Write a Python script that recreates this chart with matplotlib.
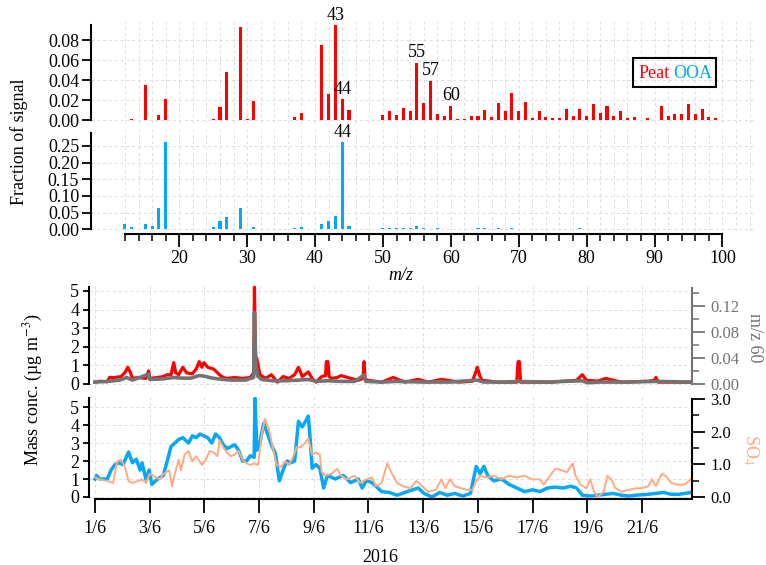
import matplotlib
matplotlib.use("Agg")
import matplotlib.pyplot as plt
import matplotlib.dates as mdates
from matplotlib.ticker import MultipleLocator, FormatStrFormatter, FixedLocator, FuncFormatter
from matplotlib.patches import Rectangle
import numpy as np
import pandas as pd

# ---- mass spectra (fraction of signal) ----
mz = list(range(12, 101))
peat_spec = [0.0003, 0.0017, 0.0, 0.035, 0.0004, 0.005, 0.021, 0, 0, 0,
             0, 0, 0.0004, 0.0017, 0.013, 0.0485, 0, 0.093, 0.0017, 0.0197,
             0, 0, 0, 0, 0, 0.003, 0.007, 0, 0, 0.0755,
             0.0268, 0.095, 0.021, 0.0107, 0, 0, 0.0006, 0.0006, 0.0052, 0.0093,
             0.0055, 0.0122, 0.0095, 0.0578, 0.0175, 0.0395, 0.0068, 0.0045, 0.0145, 0.0017,
             0.001, 0.0045, 0.0048, 0.010, 0.0038, 0.017, 0.0097, 0.0278, 0.0098, 0.018,
             0.0023, 0.0096, 0.0036, 0.002, 0.002, 0.011, 0.0046, 0.011, 0.0043, 0.016,
             0.0073, 0.014, 0.0046, 0.009, 0.0023, 0.003, 0.0007, 0.002, 0.0007, 0.0146,
             0.004, 0.0063, 0.0063, 0.0163, 0.0063, 0.011, 0.003, 0.0026, 0.0007]
ooa_spec = [0.017, 0.006, 0.0, 0.016, 0.010, 0.064, 0.262, 0, 0, 0,
            0, 0, 0.002, 0.007, 0.026, 0.037, 0, 0.064, 0.001, 0.007,
            0, 0, 0, 0, 0, 0.004, 0.006, 0, 0, 0.017,
            0.026, 0.039, 0.262, 0.009, 0, 0, 0.001, 0.001, 0.003, 0.003,
            0.003, 0.005, 0.003, 0.009, 0.003, 0.001, 0.003, 0.001, 0.001, 0.0005,
            0.0005, 0.001, 0.003, 0.003, 0.001, 0.003, 0.002, 0.003, 0.002, 0.002,
            0.001, 0.001, 0.001, 0.001, 0.001, 0.002, 0.002, 0.003, 0.001, 0.002,
            0.002, 0.001, 0.001, 0.001, 0.001, 0.001, 0.0005, 0.001, 0.0005, 0.002,
            0.001, 0.001, 0.001, 0.001, 0.001, 0.001, 0.001, 0.001, 0.0005]
peat_labels = [43, 44, 55, 57, 60]
ooa_labels = [44]

# ---- time series, days after 1 June 2016 ----
peat_days = [0, 0.17, 0.45, 0.53, 0.73, 0.95, 1.09, 1.20, 1.30, 1.37, 1.58, 1.86, 1.96, 2.01,
             2.29, 2.50, 2.64, 2.78, 2.88, 2.95, 3.06, 3.21, 3.35, 3.56, 3.70, 3.81, 3.91,
             3.98, 4.12, 4.34, 4.55, 4.69, 4.83, 5.11, 5.40, 5.68, 5.80, 5.83, 5.87, 5.92,
             6.03, 6.24, 6.45, 6.67, 6.88, 7.09, 7.30, 7.44, 7.58, 7.80, 7.94, 8.08, 8.29,
             8.43, 8.46, 8.52, 8.56, 8.64, 8.86, 9.00, 9.35, 9.63, 9.80, 9.84, 9.88, 9.99,
             10.48, 10.90, 11.33, 11.82, 12.18, 12.67, 13.31, 13.80, 13.94, 13.98, 14.08,
             14.15, 14.72, 15.42, 15.47, 15.52, 15.56, 16.69, 17.61, 17.82, 17.97, 18.39,
             18.67, 19.24, 20.23, 20.46, 20.51, 20.60, 21.78]
peat_conc = [0.10, 0.15, 0.12, 0.35, 0.35, 0.40, 0.60, 0.90, 0.60, 0.30, 0.35, 0.30, 0.70, 0.30,
             0.35, 0.40, 0.50, 0.50, 1.15, 0.60, 0.50, 0.90, 0.60, 0.55, 0.80, 1.20, 0.90,
             1.15, 0.90, 0.80, 0.50, 0.35, 0.30, 0.35, 0.30, 0.35, 0.60, 5.20, 1.50, 1.35,
             0.50, 0.30, 0.50, 0.10, 0.40, 0.30, 0.50, 0.90, 0.40, 0.65, 0.30, 0.10, 0.40,
             0.45, 1.20, 1.20, 0.40, 0.30, 0.35, 0.45, 0.30, 0.20, 0.30, 1.20, 0.25, 0.20,
             0.10, 0.35, 0.10, 0.25, 0.10, 0.25, 0.10, 0.15, 0.70, 0.90, 0.40,
             0.20, 0.10, 0.10, 1.20, 1.20, 0.10, 0.10, 0.20, 0.50, 0.20, 0.15,
             0.30, 0.10, 0.15, 0.20, 0.35, 0.10, 0.10]

m60_days = [0, 0.45, 0.90, 1.16, 1.37, 1.96, 2.01, 2.50, 2.88, 3.20, 3.50, 3.81, 4.00, 4.30,
            4.69, 5.00, 5.50, 5.80, 5.83, 5.88, 5.95, 6.10, 6.50, 7.00, 7.44, 7.80, 8.10,
            8.50, 9.00, 9.50, 9.84, 9.90, 10.50, 11.00, 12.00, 13.00, 13.98, 14.20, 15.00,
            15.50, 16.50, 17.82, 18.00, 18.50, 19.50, 20.50, 21.78]
m60_frac = [0.003, 0.004, 0.006, 0.010, 0.006, 0.015, 0.007, 0.008, 0.010, 0.009, 0.009, 0.013,
            0.012, 0.009, 0.007, 0.006, 0.006, 0.010, 0.110, 0.030, 0.012, 0.007, 0.005,
            0.005, 0.006, 0.007, 0.004, 0.005, 0.004, 0.004, 0.014, 0.004, 0.003, 0.004,
            0.003, 0.003, 0.006, 0.003, 0.003, 0.004, 0.003, 0.005, 0.002, 0.003, 0.003,
            0.004, 0.003]

ooa_days = [0, 0.056, 0.17, 0.45, 0.59, 0.73, 0.88, 1.02, 1.23, 1.37, 1.51, 1.65, 1.72, 1.86,
            1.98, 2.08, 2.29, 2.50, 2.64, 2.78, 2.92, 3.06, 3.21, 3.42, 3.56, 3.70, 3.84,
            3.98, 4.12, 4.27, 4.41, 4.55, 4.69, 4.83, 4.97, 5.11, 5.25, 5.40, 5.54, 5.68,
            5.82, 5.85, 5.92, 6.03, 6.17, 6.31, 6.45, 6.60, 6.74, 6.88, 7.02, 7.16, 7.30,
            7.44, 7.58, 7.73, 7.80, 7.87, 7.94, 8.08, 8.22, 8.36, 8.50, 8.79, 9.07, 9.35,
            9.63, 9.77, 9.92, 10.13, 10.27, 10.48, 10.76, 11.05, 11.33, 11.61, 11.82, 12.03,
            12.32, 12.60, 12.88, 13.16, 13.45, 13.73, 13.94, 14.08, 14.22, 14.36, 14.58,
            14.86, 15.14, 15.42, 15.71, 15.99, 16.27, 16.55, 16.84, 17.12, 17.40, 17.61,
            17.82, 18.11, 18.39, 18.67, 18.95, 19.24, 19.52, 19.80, 20.23, 20.51, 20.79,
            21.07, 21.36, 21.78]
ooa_conc = [1.0, 1.2, 1.0, 1.0, 1.5, 1.8, 1.9, 1.8, 2.5, 1.9, 2.1, 1.5, 1.9, 1.0,
            1.5, 0.7, 1.0, 1.2, 2.0, 2.8, 3.0, 3.2, 3.3, 3.0, 3.4, 3.3, 3.5,
            3.4, 3.3, 3.0, 3.5, 3.3, 2.9, 2.7, 2.8, 2.9, 2.6, 2.0, 2.0, 2.3,
            2.2, 5.5, 2.6, 3.0, 4.1, 3.5, 2.9, 2.4, 0.9, 1.5, 2.0, 1.9, 2.0,
            4.2, 3.9, 4.3, 4.5, 3.2, 1.6, 1.8, 1.6, 0.5, 1.2, 1.0, 1.2, 0.8,
            1.0, 0.5, 0.9, 0.8, 0.6, 0.3, 0.25, 0.1, 0.25, 0.4, 0.5, 0.2,
            0.0, 0.25, 0.1, 0.2, 0.05, 0.2, 1.7, 1.3, 1.7, 1.2, 0.9,
            1.0, 0.7, 0.5, 0.3, 0.4, 0.3, 0.5, 0.55, 0.5, 0.6, 0.5,
            0.1, 0.05, 0.1, 0.15, 0.2, 0.1, 0.05, 0.1, 0.15, 0.2, 0.25,
            0.15, 0.15, 0.25]

so4_days = [0, 0.17, 0.45, 0.66, 0.81, 0.95, 1.09, 1.23, 1.37, 1.58, 1.72, 1.86, 2.01, 2.15,
            2.36, 2.50, 2.71, 2.82, 2.92, 3.06, 3.14, 3.28, 3.42, 3.56, 3.70, 3.91, 4.05,
            4.19, 4.34, 4.48, 4.55, 4.69, 4.83, 4.97, 5.11, 5.25, 5.40, 5.54, 5.68, 5.82,
            5.96, 6.10, 6.21, 6.36, 6.50, 6.64, 6.81, 6.95, 7.09, 7.23, 7.37, 7.51, 7.66,
            7.80, 7.94, 8.08, 8.22, 8.29, 8.43, 8.64, 8.86, 9.00, 9.21, 9.49, 9.70, 9.92,
            10.13, 10.27, 10.48, 10.69, 10.83, 11.05, 11.26, 11.54, 11.75, 11.96, 12.18,
            12.46, 12.67, 12.81, 12.98, 13.16, 13.38, 13.59, 13.80, 13.94, 14.08, 14.29,
            14.58, 14.86, 15.14, 15.42, 15.71, 15.99, 16.27, 16.41, 16.69, 16.84, 17.05,
            17.26, 17.47, 17.57, 17.75, 17.97, 18.11, 18.25, 18.39, 18.60, 18.74, 18.88,
            19.03, 19.24, 19.52, 19.80, 20.01, 20.23, 20.37, 20.51, 20.72, 20.86, 21.07,
            21.28, 21.57, 21.78]
so4_conc = [0.60, 0.54, 0.49, 0.43, 1.09, 1.14, 0.92, 0.49, 0.43, 0.49, 0.54, 0.43, 0.71, 0.65,
            0.54, 0.71, 0.82, 0.33, 0.71, 1.14, 0.82, 1.30, 1.41, 1.09, 1.25, 0.98, 1.14,
            1.41, 1.36, 1.25, 1.74, 1.52, 1.36, 1.25, 1.30, 1.41, 1.14, 1.03, 0.98, 1.03,
            0.98, 1.90, 2.39, 2.07, 1.52, 0.98, 0.92, 1.09, 0.98, 1.20, 1.52, 1.52, 1.63,
            1.79, 1.30, 1.36, 1.30, 0.76, 0.65, 0.71, 0.87, 0.65, 0.54, 0.65, 0.43, 0.54,
            0.60, 0.33, 0.43, 1.03, 0.76, 0.43, 0.33, 0.27, 0.49, 0.33, 0.16,
            0.22, 0.54, 0.27, 0.54, 0.33, 0.27, 0.22, 0.22, 0.49, 0.65, 0.60,
            0.65, 0.54, 0.65, 0.60, 0.65, 0.54, 0.54, 0.38, 0.71, 0.87, 0.82,
            0.76, 1.03, 0.65, 0.38, 0.27, 0.54, 0.16, 0.0, 0.16, 0.65, 0.54,
            0.27, 0.16, 0.22, 0.27, 0.27, 0.33, 0.54, 0.33, 0.71, 0.65, 0.43,
            0.38, 0.38, 0.54]

RED = "#ff0000"
BLUE = "#05a8f5"
GRAY = "#737373"
SALMON = "#ffaa80"
GRID = dict(color="#dcdcdc", linestyle=(0, (3, 3)), linewidth=0.7)

plt.rcParams["font.family"] = ["Liberation Serif", "DejaVu Serif"]
plt.rcParams["mathtext.fontset"] = "stix"
plt.rcParams["font.size"] = 13
plt.rcParams["axes.linewidth"] = 1.5
plt.rcParams["xtick.major.width"] = 1.3
plt.rcParams["ytick.major.width"] = 1.3
plt.rcParams["xtick.minor.width"] = 1.1
plt.rcParams["ytick.minor.width"] = 1.1

W, H = 766, 565


def rect(l, t, r, b):
    return [l / W, 1 - b / H, (r - l) / W, (b - t) / H]


fig = plt.figure(figsize=(W / 100, H / 100), dpi=100)

# ---------------- spectra ----------------
ax_p = fig.add_axes(rect(91, 22, 755, 123))
ax_o = fig.add_axes(rect(91, 130, 755, 231), sharex=ax_p)

for ax in (ax_p, ax_o):
    ax.patch.set_alpha(0)
    ax.spines["top"].set_visible(False)
    ax.spines["right"].set_visible(False)
    ax.set_axisbelow(True)
    ax.grid(axis="y", **GRID)
    for g in range(12, 105, 2):
        ax.axvline(g, zorder=0, **GRID)
    ax.tick_params(axis="y", direction="out", length=6.5, pad=2)

ax_p.spines["bottom"].set_visible(False)
ax_p.bar(mz, peat_spec, width=0.45, color=RED, zorder=3)
ax_o.bar(mz, ooa_spec, width=0.45, color=BLUE, zorder=3)

ax_p.set_xlim(7, 104.8)
ax_p.set_ylim(-0.0027, 0.0983)
ax_o.set_ylim(-0.0051, 0.2979)
ax_p.spines["left"].set_bounds(0, 0.095)
ax_o.spines["left"].set_bounds(0, 0.29)
ax_o.spines["bottom"].set_bounds(12, 100)
ax_o.spines["bottom"].set_position(("outward", 2))

ax_p.yaxis.set_major_locator(MultipleLocator(0.02))
ax_p.yaxis.set_major_formatter(FormatStrFormatter("%.2f"))
ax_o.yaxis.set_major_locator(MultipleLocator(0.05))
ax_o.yaxis.set_major_formatter(FormatStrFormatter("%.2f"))
ax_o.xaxis.set_major_locator(FixedLocator(range(20, 101, 10)))
ax_o.xaxis.set_minor_locator(FixedLocator(range(12, 101, 2)))
ax_o.tick_params(axis="x", which="major", direction="out", length=9, pad=3)
ax_o.tick_params(axis="x", which="minor", direction="out", length=5)
ax_p.tick_params(axis="x", which="both", bottom=False, labelbottom=False)

for m in peat_labels:
    ax_p.annotate(str(m), (m, peat_spec[mz.index(m)]), xytext=(0, 1),
                  textcoords="offset points", ha="center", va="bottom", zorder=5)
for m in ooa_labels:
    ax_o.annotate(str(m), (m, ooa_spec[mz.index(m)]), xytext=(0, 1),
                  textcoords="offset points", ha="center", va="bottom",
                  annotation_clip=False, zorder=5)

fig.text(639 / W, 1 - 73 / H, "Peat", color=RED, ha="left", va="center")
fig.text(673 / W, 1 - 73 / H, "OOA", color=BLUE, ha="left", va="center")
fig.patches.append(Rectangle((633 / W, 1 - 87 / H), 83 / W, 29 / H, fill=False,
                             edgecolor="black", linewidth=1.5, transform=fig.transFigure))

fig.text(19 / W, 1 - 142 / H, "Fraction of signal", rotation=90, ha="center", va="center")
fig.text(401 / W, 1 - 276 / H, "m/z", style="italic", ha="center", va="center")

# ---------------- time series ----------------
t0 = pd.Timestamp("2016-06-01")


def to_time(days):
    return t0 + pd.to_timedelta(np.asarray(days), unit="D")


ax_t1 = fig.add_axes(rect(89, 285, 692, 388))
ax_t2 = fig.add_axes(rect(89, 397, 692, 499), sharex=ax_t1)
ax_r1 = ax_t1.twinx()
ax_r2 = ax_t2.twinx()

ax_t1.plot(to_time(peat_days), peat_conc, color=RED, lw=2.3)
ax_r1.plot(to_time(m60_days), m60_frac, color=GRAY, lw=2.6)
ax_t2.plot(to_time(ooa_days), ooa_conc, color=BLUE, lw=2.5)
ax_r2.plot(to_time(so4_days), so4_conc, color=SALMON, lw=1.4)

x0 = mdates.date2num(t0)
ax_t1.set_xlim(x0 - 0.219, x0 + 21.83)
ax_t1.set_ylim(-0.215, 5.32)
ax_r1.set_ylim(-0.00615, 0.1523)
ax_t2.set_ylim(-0.112, 5.56)
ax_r2.set_ylim(-0.061, 3.06)

for ax in (ax_t1, ax_t2):
    ax.spines["top"].set_visible(False)
    ax.spines["right"].set_visible(False)
    ax.set_axisbelow(True)
    ax.grid(True, **GRID)
    ax.yaxis.set_major_locator(MultipleLocator(1))
    ax.tick_params(axis="y", direction="out", length=4, pad=3)
for ax in (ax_r1, ax_r2):
    for s in ("top", "left", "bottom"):
        ax.spines[s].set_visible(False)
    ax.tick_params(axis="y", which="major", direction="out", length=9, pad=4, labelsize=12)
    ax.tick_params(axis="y", which="minor", direction="out", length=5)

ax_t1.spines["bottom"].set_visible(False)
ax_t1.spines["left"].set_bounds(0, 5.2)
ax_t2.spines["left"].set_bounds(0, 5.5)
ax_t2.spines["bottom"].set_bounds(x0, x0 + 21.83)
ax_r1.spines["right"].set_bounds(0, 0.148)
ax_r2.spines["right"].set_bounds(0, 3.0)

ax_t2.xaxis.set_major_locator(mdates.DayLocator(bymonthday=range(1, 23, 2)))
ax_t2.xaxis.set_major_formatter(FuncFormatter(
    lambda v, p: f"{mdates.num2date(v).day}/{mdates.num2date(v).month}"))
ax_t2.tick_params(axis="x", direction="out", length=10, pad=5)
ax_t1.tick_params(axis="x", which="both", bottom=False, labelbottom=False)

ax_r1.spines["right"].set_color(GRAY)
ax_r1.yaxis.set_major_locator(MultipleLocator(0.04))
ax_r1.yaxis.set_minor_locator(MultipleLocator(0.02))
ax_r1.yaxis.set_major_formatter(FormatStrFormatter("%.2f"))
ax_r1.tick_params(axis="y", which="both", colors=GRAY)

ax_r2.yaxis.set_major_locator(MultipleLocator(1.0))
ax_r2.yaxis.set_minor_locator(MultipleLocator(0.5))
ax_r2.yaxis.set_major_formatter(FormatStrFormatter("%.1f"))

fig.text(755 / W, 1 - 338 / H, "m/z 60", color=GRAY, rotation=270, ha="center", va="center")
fig.text(751 / W, 1 - 450 / H, "SO$_4$", color=SALMON, rotation=270, ha="center", va="center")
fig.text(33 / W, 1 - 390 / H, "Mass conc. (µg m$^{-3}$)", rotation=90, ha="center", va="center")
fig.text(380 / W, 1 - 557 / H, "2016", ha="center", va="center")

fig.savefig("out.png", dpi=100)
